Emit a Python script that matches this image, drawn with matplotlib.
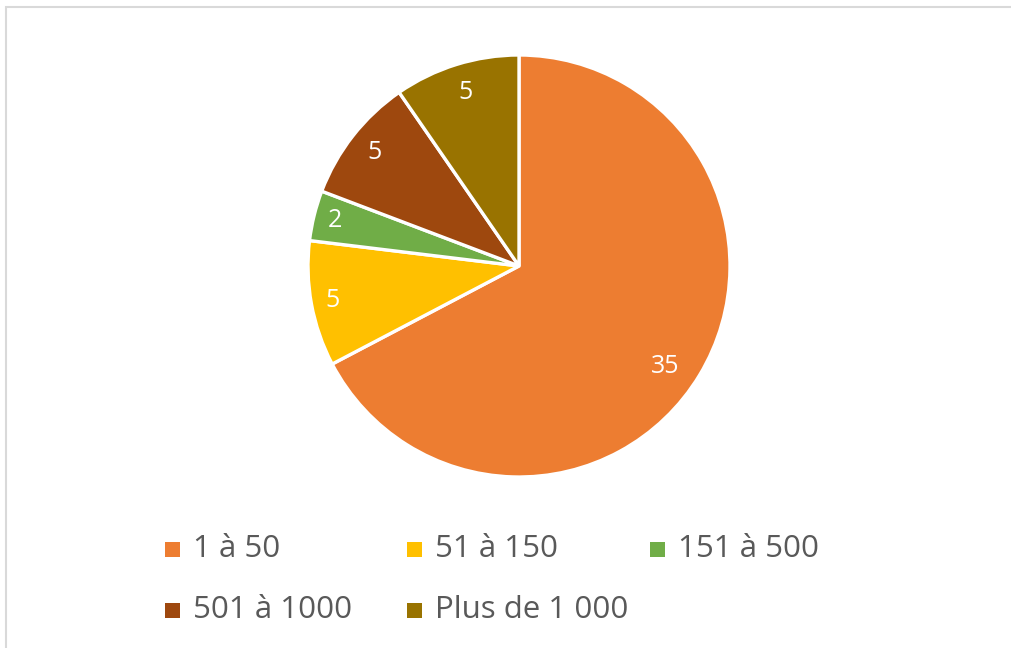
import numpy as np
import matplotlib.pyplot as plt
from matplotlib.patches import Rectangle

plt.rcParams['font.family'] = ['Open Sans', 'DejaVu Sans']

# Data
categories = ["1 à 50", "51 à 150", "151 à 500", "501 à 1000", "Plus de 1 000"]
values = [35, 5, 2, 5, 5]
colors = ["#ED7D31", "#FFC000", "#70AD47", "#9E480E", "#997300"]
label_dist = [0.84, 0.9, 0.9, 0.87, 0.86]
label_shift = [-3.5, 0, 0, 0, 0]   # degrees, Excel best-fit nudges

W, H = 1012, 648
fig = plt.figure(figsize=(W / 100, H / 100), dpi=100)

# frame of the chart area (only top/left visible in the crop)
fig.patches.append(Rectangle((6 / W, -0.1), 1.2, 1 - 7 / H + 0.1,
                             transform=fig.transFigure, fill=False,
                             edgecolor="#d9d9d9", linewidth=1.5))

cx, cy, r = 519, 266, 211
ax = fig.add_axes([(cx - r) / W, (H - cy - r) / H, 2 * r / W, 2 * r / H])
wedges, _ = ax.pie(values, colors=colors, startangle=90, counterclock=False,
                   radius=1, wedgeprops=dict(edgecolor="white", linewidth=2.4))
ax.set_xlim(-1, 1)
ax.set_ylim(-1, 1)
ax.axis("off")

for w, v, d, s in zip(wedges, values, label_dist, label_shift):
    ang = np.deg2rad((w.theta1 + w.theta2) / 2 + s)
    ax.text(d * np.cos(ang), d * np.sin(ang), str(v), color="white",
            fontsize=18, ha="center", va="center")

# legend, Excel-style fixed columns
leg_pos = [(165, 549), (407, 549), (650, 549), (165, 610), (407, 610)]
sq = 15
for (lx, ly), lab, c in zip(leg_pos, categories, colors):
    fig.patches.append(Rectangle((lx / W, (H - ly - sq / 2) / H), sq / W, sq / H,
                                 transform=fig.transFigure, facecolor=c,
                                 edgecolor="none"))
    fig.text((lx + 28) / W, (H - ly) / H, lab, color="#595959", fontsize=22.5,
             ha="left", va="center")

fig.savefig("out.png", dpi=100, facecolor="white")
